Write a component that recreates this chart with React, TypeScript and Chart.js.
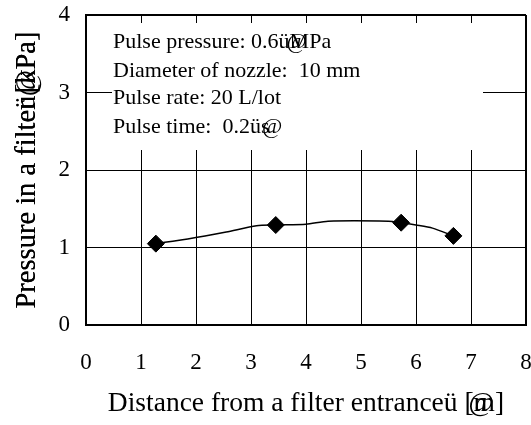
import React, { useEffect, useRef } from "react";
import { Chart, registerables } from "chart.js";

Chart.register(...registerables);

const markerX = [1.27, 3.45, 5.73, 6.68];
const markerY = [1.05, 1.29, 1.32, 1.15];

const curveX = [1.27, 1.85, 2.55, 3.1, 3.45, 4.0, 4.4, 5.5, 5.73, 6.0, 6.3, 6.68];
const curveY = [1.05, 1.11, 1.2, 1.28, 1.29, 1.3, 1.34, 1.34, 1.32, 1.29, 1.25, 1.15];

const xTicks = [0, 1, 2, 3, 4, 5, 6, 7, 8];
const yTicks = [0, 1, 2, 3, 4];

const xTitle = "Distance from a filter entranceü [m]";
const yTitle = "Pressure in a filter [kPa]";
const noteLines = [
  "Pulse pressure: 0.6üMPa",
  "Diameter of nozzle:  10 mm",
  "Pulse rate: 20 L/lot",
  "Pulse time:  0.2üs",
];

const FONT = "'Liberation Serif', 'Times New Roman', serif";

function drawWithOverlay(
  ctx: CanvasRenderingContext2D,
  text: string,
  x: number,
  y: number,
  overlayAt: number,
  overlay: string,
  dx: number
) {
  ctx.fillText(text, x, y);
  if (overlayAt >= 0) {
    const w = ctx.measureText(text.slice(0, overlayAt)).width;
    ctx.fillText(overlay, x + w + dx, y);
  }
}

const annotations = {
  id: "annotations",
  beforeDatasetsDraw(chart: any) {
    const ctx: CanvasRenderingContext2D = chart.ctx;
    ctx.save();
    ctx.fillStyle = "#fff";
    ctx.fillRect(112, 23, 371, 127);
    ctx.fillStyle = "#000";
    ctx.font = `22px ${FONT}`;
    ctx.textAlign = "left";
    ctx.textBaseline = "alphabetic";
    const baselines = [48, 77, 104, 133];
    drawWithOverlay(ctx, noteLines[0], 113, baselines[0], noteLines[0].indexOf("MPa"), "@", -3);
    ctx.fillText(noteLines[1], 113, baselines[1]);
    ctx.fillText(noteLines[2], 113, baselines[2]);
    drawWithOverlay(ctx, noteLines[3], 113, baselines[3], noteLines[3].length - 1, "@", 1);
    ctx.restore();
  },
  afterDraw(chart: any) {
    const ctx: CanvasRenderingContext2D = chart.ctx;
    const { left, top, right, bottom } = chart.chartArea;
    ctx.save();
    ctx.fillStyle = "#000";
    ctx.font = `27.5px ${FONT}`;
    ctx.textBaseline = "alphabetic";
    ctx.textAlign = "left";
    const xw = ctx.measureText(xTitle).width;
    const xs = (left + right) / 2 - xw / 2;
    drawWithOverlay(ctx, xTitle, xs, 411, xTitle.indexOf("[") + 1, "@", -5);
    ctx.font = `28.5px ${FONT}`;
    ctx.translate(35, (top + bottom) / 2);
    ctx.rotate(-Math.PI / 2);
    const yw = ctx.measureText(yTitle).width;
    const ys = -yw / 2;
    drawWithOverlay(ctx, yTitle, ys, 0, yTitle.indexOf("r ["), "ü", 0);
    drawWithOverlay(ctx, yTitle, ys, 0, yTitle.indexOf("["), "@", -3);
    ctx.restore();
  },
};

export default function App() {
  const ref = useRef<HTMLCanvasElement | null>(null);
  useEffect(() => {
    document.body.style.margin = "0";
    const canvas = ref.current!;
    const chart = new Chart(canvas, {
      type: "scatter",
      data: {
        datasets: [
          {
            data: curveX.map((x, i) => ({ x, y: curveY[i] })),
            showLine: true,
            borderColor: "#000",
            borderWidth: 1.5,
            pointRadius: 0,
            tension: 0.25,
            order: 2,
          },
          {
            data: markerX.map((x, i) => ({ x, y: markerY[i] })),
            showLine: false,
            pointStyle: "rectRot",
            pointRadius: 8.5,
            backgroundColor: "#000",
            borderColor: "#000",
            borderWidth: 1,
            order: 1,
          },
        ],
      },
      options: {
        responsive: false,
        animation: false,
        layout: { autoPadding: false, padding: { top: 15, right: 5, left: 0, bottom: 0 } },
        plugins: { legend: { display: false }, tooltip: { enabled: false } },
        scales: {
          x: {
            type: "linear",
            min: xTicks[0],
            max: xTicks[xTicks.length - 1],
            afterBuildTicks: (s: any) => {
              s.ticks = xTicks.map((v) => ({ value: v }));
            },
            afterFit: (s: any) => {
              s.height = 100;
              s.paddingLeft = 0;
              s.paddingRight = 0;
            },
            ticks: {
              color: "#000",
              font: { family: FONT, size: 23 },
              padding: 24,
              maxRotation: 0,
              callback: (v: any) => String(v),
            },
            grid: {
              color: "#000",
              lineWidth: (c: any) => (c.tick && c.tick.value === 8 ? 2 : 1),
              drawTicks: false,
            },
            border: { color: "#000", width: 2 },
          },
          y: {
            type: "linear",
            min: yTicks[0],
            max: yTicks[yTicks.length - 1],
            afterBuildTicks: (s: any) => {
              s.ticks = yTicks.map((v) => ({ value: v }));
            },
            afterFit: (s: any) => {
              s.width = 86;
              s.paddingTop = 0;
              s.paddingBottom = 0;
            },
            ticks: {
              color: "#000",
              font: { family: FONT, size: 23 },
              padding: 16,
              callback: (v: any) => String(v),
            },
            grid: {
              color: "#000",
              lineWidth: (c: any) => (c.tick && c.tick.value === 4 ? 2 : 1),
              drawTicks: false,
            },
            border: { color: "#000", width: 2 },
          },
        },
      },
      plugins: [annotations],
    });
    return () => chart.destroy();
  }, []);
  return <canvas ref={ref} width={531} height={425} style={{ display: "block" }} />;
}
